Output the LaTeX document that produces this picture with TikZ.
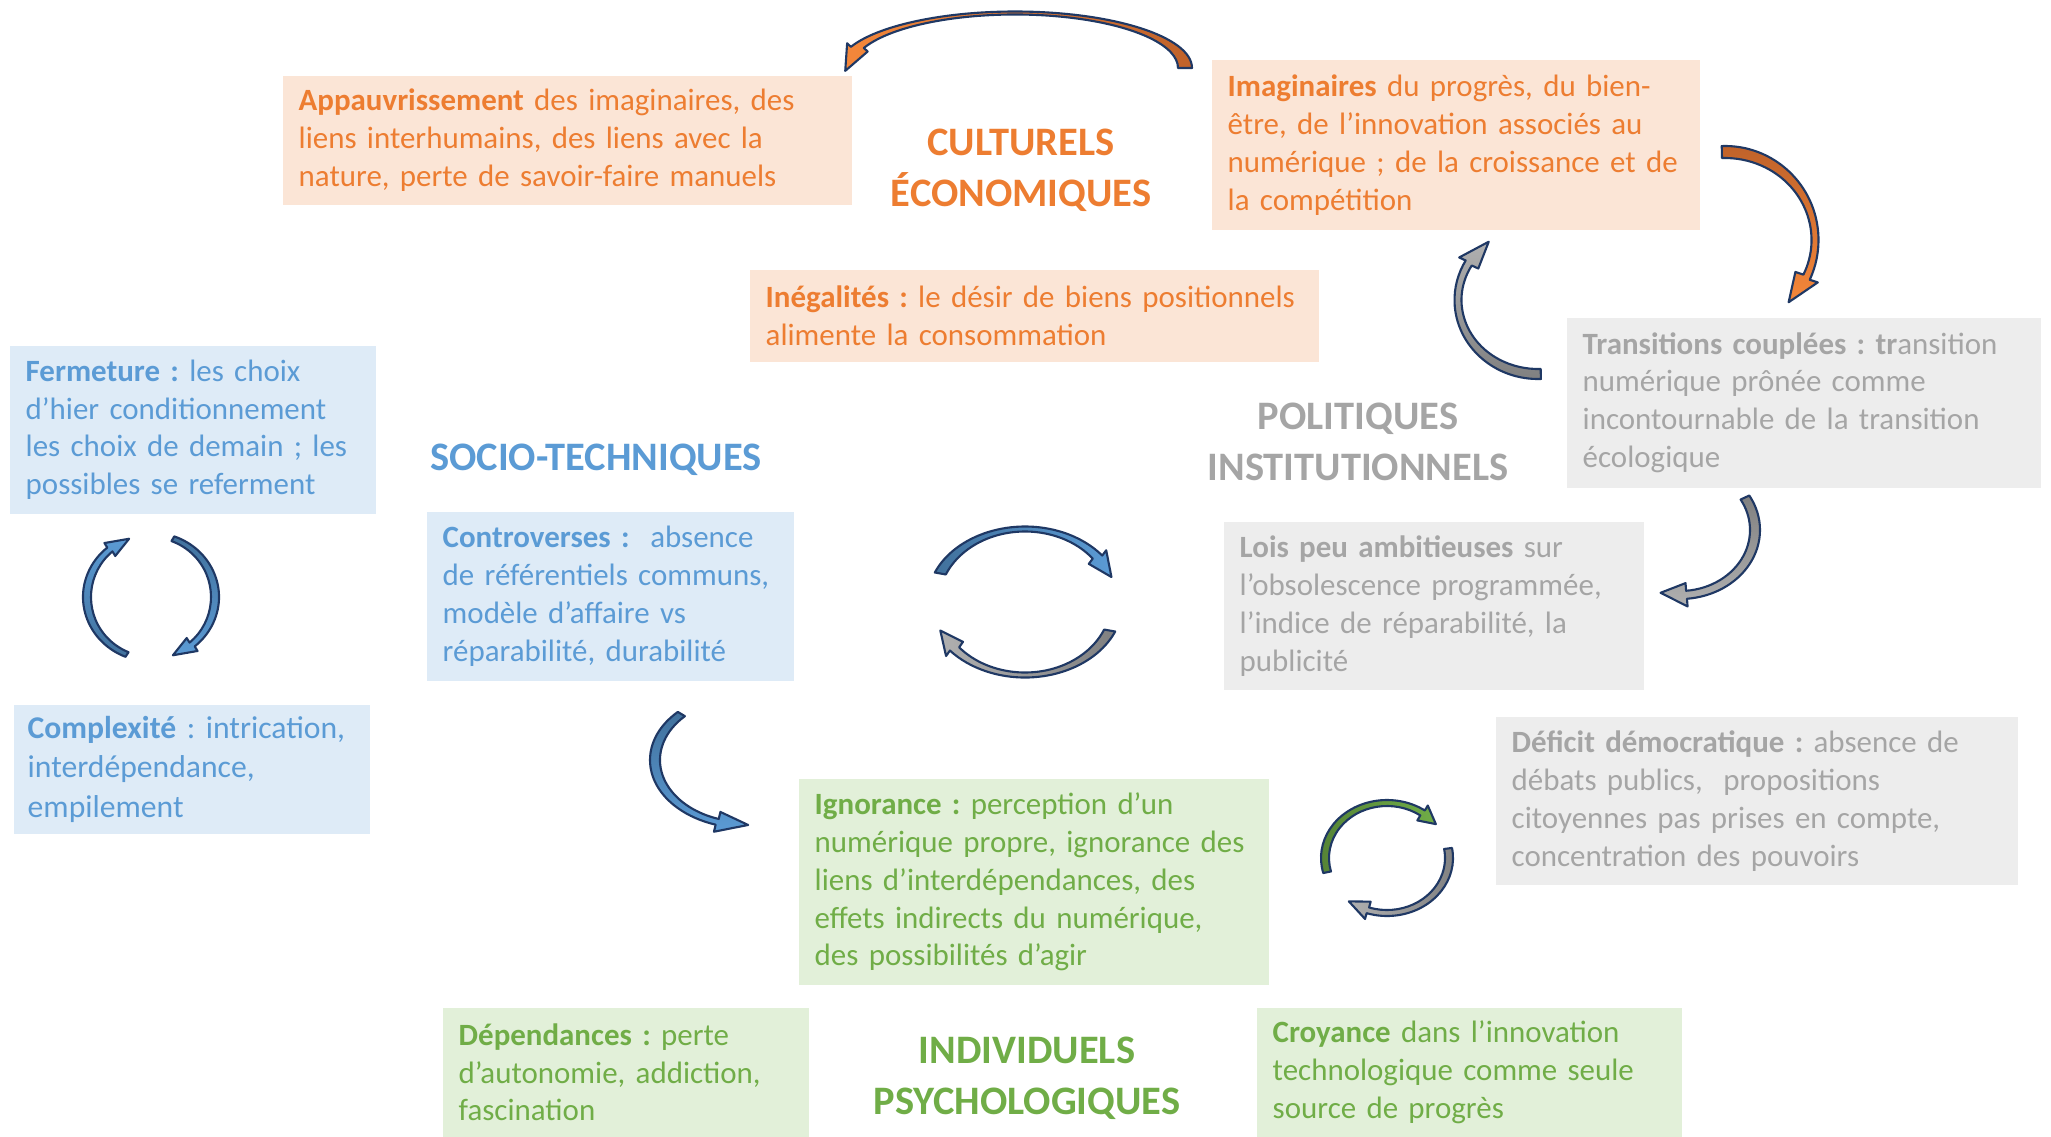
\documentclass[tikz,border=0pt]{standalone}
\usepackage{fontspec}
\setmainfont{Carlito}
\usepackage{xcolor}
\definecolor{orText}{HTML}{ED7D31}
\definecolor{orFill}{HTML}{FBE5D6}
\definecolor{grText}{HTML}{A5A5A5}
\definecolor{grFill}{HTML}{EDEDED}
\definecolor{blText}{HTML}{5B9BD5}
\definecolor{blFill}{HTML}{DEEBF7}
\definecolor{gnText}{HTML}{70AD47}
\definecolor{gnFill}{HTML}{E2F0D9}
\definecolor{arrLine}{HTML}{1F3864}
\definecolor{orDark}{HTML}{C0622A}
\definecolor{orLight}{HTML}{F4873A}
\definecolor{blDark}{HTML}{41719C}
\definecolor{blLight}{HTML}{5B9BD5}
\definecolor{grDark}{HTML}{808080}
\definecolor{grLight}{HTML}{B0B0B0}
\definecolor{gnDark}{HTML}{548235}
\definecolor{gnLight}{HTML}{70AD47}
\usetikzlibrary{calc}
\frenchspacing

% curved block arrow: centre, x/y radius, tail angle, neck angle, tip angle,
% x/y half width of the band, fill options
\newcommand{\bendarrow}[9]{%
  \pgfmathsetmacro\headhw{1.3*(#7+#8)}%
  \filldraw[bendline, #9]
    ($(#1)+(#4:{#2+#7} and {#3+#8})$)
    arc[start angle=#4, end angle=#5, x radius={#2+#7}, y radius={#3+#8}]
    -- ($(#1)+(#5:{#2+\headhw} and {#3+\headhw})$)
    -- ($(#1)+(#6:#2 and #3)$)
    -- ($(#1)+(#5:{#2-\headhw} and {#3-\headhw})$)
    -- ($(#1)+(#5:{#2-#7} and {#3-#8})$)
    arc[start angle=#5, end angle=#4, x radius={#2-#7}, y radius={#3-#8}]
    -- cycle;}

\begin{document}
\begin{tikzpicture}[
    x=0.01cm, y=0.01cm,
    boxtxt/.style={anchor=north west, align=left, inner xsep=0.16cm,
                   inner ysep=0pt, font=\fontsize{8.8}{10.8}\selectfont,
                   execute at begin node={\hyphenpenalty=10000\relax}},
    orbox/.style={boxtxt, fill=orFill, text=orText},
    grbox/.style={boxtxt, fill=grFill, text=grText},
    blbox/.style={boxtxt, fill=blFill, text=blText},
    gnbox/.style={boxtxt, fill=gnFill, text=gnText},
    title/.style={align=center, font=\bfseries\fontsize{11.5}{14.5}\selectfont},
    bendline/.style={draw=arrLine, line width=0.6pt, line join=round}
]
\fill[white] (0,0) rectangle (2051,-1136);
\useasboundingbox (0,0) rectangle (2051,-1136);

% Culturels / economiques
\node[orbox, text width=5.37cm, minimum height=1.29cm] (appauv) at (282,-75)
  {\textbf{Appauvrissement} des imaginaires, des\\liens interhumains, des liens avec la\\nature, perte de savoir-faire manuels};
\node[orbox, text width=4.56cm, minimum height=1.70cm] (imagin) at (1211,-59)
  {\textbf{Imaginaires} du progrès, du bien-\\être, de l’innovation associés au\\numérique ; de la croissance et de\\la compétition};
\node[orbox, text width=5.37cm, minimum height=0.92cm] (inegal) at (749,-269)
  {\textbf{Inégalités :} le désir de biens positionnels\\alimente la consommation};
\node[title, text=orText] (cultur) at (1021,-170) {CULTURELS\\ÉCONOMIQUES};

% Politiques / institutionnels
\node[grbox, text width=4.42cm, minimum height=1.70cm] (transit) at (1566,-317)
  {\textbf{Transitions couplées : tr}ansition\\numérique prônée comme\\incontournable de la transition\\écologique};
\node[grbox, text width=3.88cm, minimum height=1.68cm] (lois) at (1223,-521)
  {\textbf{Lois peu ambitieuses} sur\\l’obsolescence programmée,\\l’indice de réparabilité, la\\publicité};
\node[grbox, text width=4.90cm, minimum height=1.68cm] (deficit) at (1495,-716)
  {\textbf{Déficit démocratique :} absence de\\débats publics,\ \ propositions\\citoyennes pas prises en compte,\\concentration des pouvoirs};
\node[title, text=grText] (politi) at (1358,-442) {POLITIQUES\\INSTITUTIONNELS};

% Socio-techniques
\node[blbox, text width=3.34cm, minimum height=1.68cm] (fermet) at (9,-345)
  {\textbf{Fermeture :} les choix\\d’hier conditionnement\\les choix de demain ; les\\possibles se referment};
\node[blbox, text width=3.35cm, minimum height=1.69cm] (controv) at (426,-511)
  {\textbf{Controverses :}\ \ absence\\de référentiels communs,\\modèle d’affaire vs\\réparabilité, durabilité};
\node[blbox, text width=3.28cm, inner xsep=0.14cm, minimum height=1.29cm,
      font=\fontsize{9.0}{11.2}\selectfont] (complex) at (13,-704)
  {\textbf{Complexité} : intrication,\\interdépendance,\\empilement};
\node[title, text=blText] (socio) at (596,-460) {SOCIO-TECHNIQUES};

% Individuels / psychologiques
\node[gnbox, text width=4.38cm, minimum height=2.06cm] (ignor) at (798,-778)
  {\textbf{Ignorance :} perception d’un\\numérique propre, ignorance des\\liens d’interdépendances, des\\effets indirects du numérique,\\des possibilités d’agir};
\node[gnbox, text width=3.34cm, minimum height=1.29cm] (depend) at (442,-1007)
  {\textbf{Dépendances :} perte\\d’autonomie, addiction,\\fascination};
\node[gnbox, text width=3.93cm, minimum height=1.29cm] (croyan) at (1256,-1007)
  {\textbf{Croyance} dans l’innovation\\technologique comme seule\\source de progrès};
\node[title, text=gnText] (indiv) at (1027,-1078) {INDIVIDUELS\\PSYCHOLOGIQUES};

% Curved arrows
\bendarrow{1015,-68}{170}{55}{0}{158}{183}{7}{1.5}{left color=orLight, right color=orDark}
\bendarrow{1725,-240}{90}{88}{92}{-25}{-45}{3.5}{6}{top color=orDark, bottom color=orLight}
\bendarrow{1538,-300}{80}{74}{272}{150}{128}{3.5}{5}{top color=grLight, bottom color=grDark}
\bendarrow{1680,-530}{75}{65}{30}{-85}{-105}{5}{4}{top color=grDark, bottom color=grLight}
% left pair
\bendarrow{151,-597}{64}{62}{248}{130}{110}{4}{2.5}{top color=blLight, bottom color=blDark}
\bendarrow{151,-597}{64}{62}{70}{-50}{-70}{4}{2.5}{top color=blDark, bottom color=blLight}
% middle pair
\bendarrow{1025,-602}{92}{73}{157}{38}{20}{6}{2.5}{left color=blDark, right color=blLight}
\bendarrow{1025,-602}{92}{73}{-23}{-140}{-157}{6}{2.5}{left color=grLight, right color=grDark}
\bendarrow{745,-760}{90}{65}{135}{252}{272}{5}{3}{top color=blDark, bottom color=blLight}
% right pair
\bendarrow{1387,-858}{62}{55}{195}{55}{38}{4}{3}{left color=gnDark, right color=gnLight}
\bendarrow{1387,-858}{62}{55}{10}{-108}{-128}{4}{3}{left color=grLight, right color=grDark}
\end{tikzpicture}
\end{document}
